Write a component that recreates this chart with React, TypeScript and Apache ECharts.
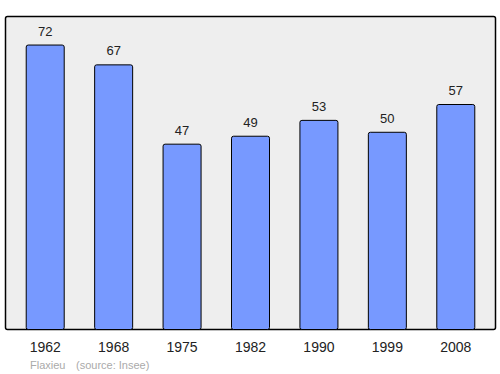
import React, { useEffect, useRef } from "react";
import * as echarts from "echarts";

const years = ["1962", "1968", "1975", "1982", "1990", "1999", "2008"];
const population = [72, 67, 47, 49, 53, 50, 57];

export default function App() {
  const ref = useRef<HTMLDivElement>(null);
  useEffect(() => {
    const chart = echarts.init(ref.current!, null, { renderer: "svg" });
    chart.setOption({
      animation: false,
      backgroundColor: "#ffffff",
      textStyle: { fontFamily: "Liberation Sans, Arial, sans-serif" },
      graphic: [
        {
          type: "rect",
          z: -10,
          silent: true,
          shape: { x: 5.5, y: 16.5, width: 490, height: 313, r: 2 },
          style: { fill: "#eeeeee", stroke: "#000000", lineWidth: 1.5 },
        },
        {
          type: "text",
          x: 30,
          y: 359,
          style: { text: "Flaxieu", fill: "#aaaaaa", fontSize: 11, fontFamily: "Liberation Sans, Arial, sans-serif" },
        },
        {
          type: "text",
          x: 76,
          y: 359,
          style: { text: "(source: Insee)", fill: "#aaaaaa", fontSize: 11, fontFamily: "Liberation Sans, Arial, sans-serif" },
        },
      ],
      grid: { left: 11, right: 10, top: 16, bottom: 44 },
      xAxis: {
        type: "category",
        data: years,
        axisLine: { show: false },
        axisTick: { show: false },
        axisLabel: { color: "#222222", fontSize: 14, margin: 10 },
      },
      yAxis: {
        type: "value",
        min: 0,
        max: 79.2,
        show: false,
        splitLine: { show: false },
      },
      series: [
        {
          type: "bar",
          data: population,
          barWidth: 39,
          itemStyle: { color: "#7799ff", borderColor: "#000000", borderWidth: 1, borderRadius: 2 },
          label: { show: true, position: "top", distance: 7, color: "#222222", fontSize: 13 },
        },
      ],
    });
    return () => chart.dispose();
  }, []);
  return <div ref={ref} style={{ position: "fixed", left: 0, top: 0, width: 500, height: 374 }} />;
}
